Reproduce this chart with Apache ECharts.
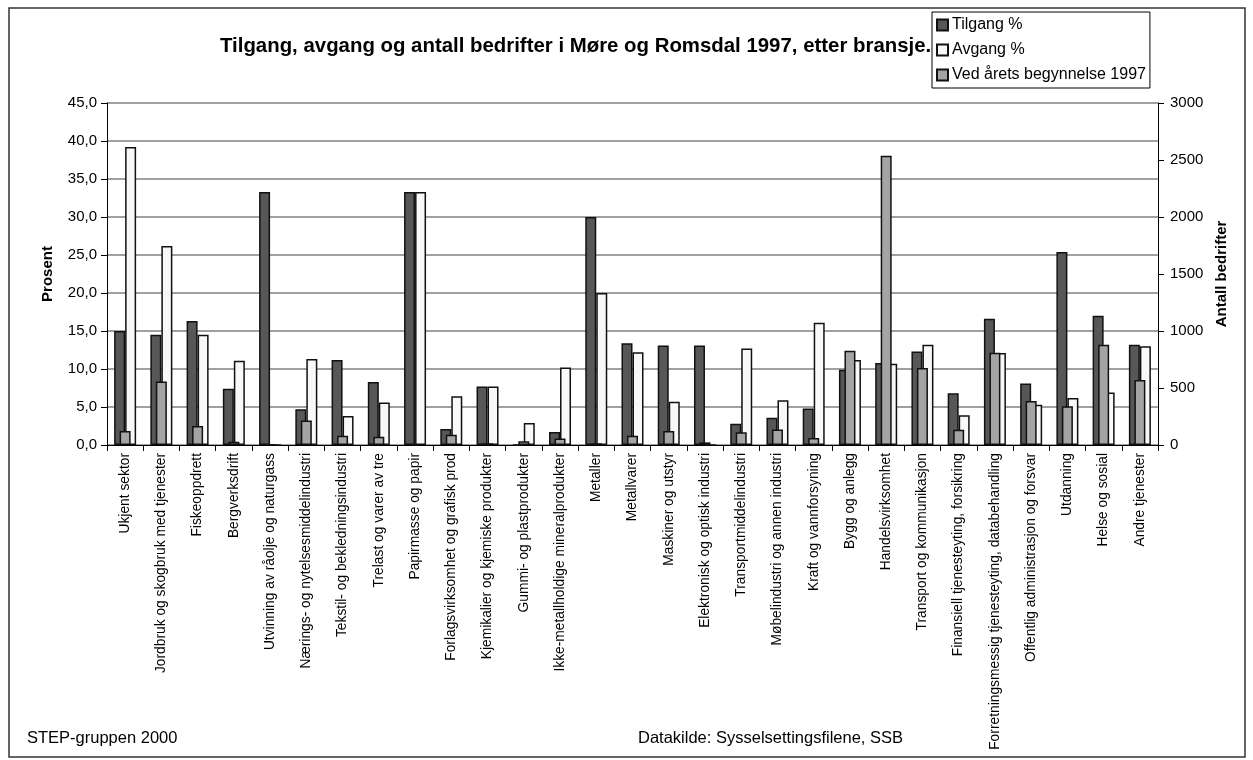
<!DOCTYPE html>
<html>
<head>
<meta charset="utf-8">
<script src="https://cdn.jsdelivr.net/npm/echarts@6/dist/echarts.min.js"></script>
<style>
  html, body { margin: 0; padding: 0; background: #ffffff; }
  #chart { width: 1253px; height: 760px; }
</style>
</head>
<body>
<div id="chart"></div>
<script>
// Næringsgrupper (bransjer)
const categories = [
  'Ukjent sektor',
  'Jordbruk og skogbruk med tjenester',
  'Fiskeoppdrett',
  'Bergverksdrift',
  'Utvinning av råolje og naturgass',
  'Nærings- og nytelsesmiddelindustri',
  'Tekstil- og bekledningsindustri',
  'Trelast og varer av tre',
  'Papirmasse og papir',
  'Forlagsvirksomhet og grafisk prod',
  'Kjemikalier og kjemiske produkter',
  'Gummi- og plastprodukter',
  'Ikke-metallholdige mineralprodukter',
  'Metaller',
  'Metallvarer',
  'Maskiner og utstyr',
  'Elektronisk og optisk industri',
  'Transportmiddelindustri',
  'Møbelindustri og annen industri',
  'Kraft og vannforsyning',
  'Bygg og anlegg',
  'Handelsvirksomhet',
  'Transport og kommunikasjon',
  'Finansiell tjenesteyting, forsikring',
  'Forretningsmessig tjenesteyting, databehandling',
  'Offentlig administrasjon og forsvar',
  'Utdanning',
  'Helse og sosial',
  'Andre tjenester'
];

// Tilgang i prosent
const tilgang = [15.0, 14.5, 16.3, 7.4, 33.3, 4.7, 11.2, 8.3, 33.3, 2.1, 7.7, 0, 1.7, 30.0, 13.4,
  13.1, 13.1, 2.8, 3.6, 4.8, 9.9, 10.8, 12.3, 6.8, 16.6, 8.1, 25.4, 17.0, 13.2];

// Avgang i prosent
const avgang = [39.2, 26.2, 14.5, 11.1, 0, 11.3, 3.8, 5.6, 33.3, 6.4, 7.7, 2.9, 10.2, 20.0, 12.2,
  5.7, 0, 12.7, 5.9, 16.1, 11.2, 10.7, 13.2, 3.9, 12.1, 5.3, 6.2, 6.9, 13.0];

// Antall bedrifter ved årets begynnelse 1997
const bedrifter = [123, 558, 166, 29, 5, 216, 82, 73, 5, 91, 15, 32, 58, 15, 82,
  123, 23, 111, 137, 61, 827, 2538, 675, 134, 809, 386, 339, 879, 570];

const seriesNames = ['Tilgang %', 'Avgang %', 'Ved årets begynnelse 1997'];

const FONT = 'Liberation Sans, Arial, sans-serif';
const BORDER = { borderColor: '#111111', borderWidth: 1.5 };

const chart = echarts.init(document.getElementById('chart'), null, { renderer: 'canvas' });

chart.setOption({
  backgroundColor: '#ffffff',
  animation: false,
  textStyle: { fontFamily: FONT, color: '#000000' },
  title: {
    text: 'Tilgang, avgang og antall bedrifter i Møre og Romsdal 1997, etter bransje.',
    left: 215,
    top: 31,
    textStyle: { fontFamily: FONT, fontSize: 20.4, fontWeight: 'bold', color: '#000000' }
  },
  legend: {
    orient: 'vertical',
    left: 932,
    top: 12,
    data: seriesNames,
    icon: 'rect',
    itemWidth: 11,
    itemHeight: 11,
    itemGap: 9,
    padding: [5, 4, 5, 4],
    backgroundColor: '#ffffff',
    borderColor: '#000000',
    borderWidth: 1,
    textStyle: { fontFamily: FONT, fontSize: 16, color: '#000000', padding: [0, 0, 0, -1] }
  },
  grid: { left: 107, right: 95, top: 103, bottom: 315, containLabel: false },
  xAxis: [
    {
      type: 'category',
      data: categories,
      axisLine: { show: true, lineStyle: { color: '#000000', width: 1 } },
      axisTick: { show: true, length: 6, lineStyle: { color: '#000000' } },
      axisLabel: {
        interval: 0, rotate: 90, margin: 8,
        fontFamily: FONT, fontSize: 13.8, color: '#000000'
      },
      splitLine: { show: false }
    },
    {
      type: 'category',
      data: categories,
      show: false
    }
  ],
  yAxis: [
    {
      type: 'value',
      min: 0, max: 45, interval: 5,
      name: 'Prosent',
      nameLocation: 'middle',
      nameRotate: 90,
      nameGap: 52,
      nameTextStyle: { fontFamily: FONT, fontSize: 15, fontWeight: 'bold', color: '#000000' },
      axisLine: { show: true, lineStyle: { color: '#000000', width: 1 } },
      axisTick: { show: true, length: 6, lineStyle: { color: '#000000' } },
      axisLabel: {
        margin: 10, fontFamily: FONT, fontSize: 15, color: '#000000',
        formatter: v => v.toFixed(1).replace('.', ',')
      },
      splitLine: { show: true, lineStyle: { color: '#808080', width: 1.5 } }
    },
    {
      type: 'value',
      min: 0, max: 3000, interval: 500,
      position: 'right',
      name: 'Antall bedrifter',
      nameLocation: 'middle',
      nameRotate: 90,
      nameGap: 55,
      nameTextStyle: { fontFamily: FONT, fontSize: 15, fontWeight: 'bold', color: '#000000' },
      axisLine: { show: true, lineStyle: { color: '#000000', width: 1 } },
      axisTick: { show: true, length: 6, lineStyle: { color: '#000000' } },
      axisLabel: {
        margin: 12, fontFamily: FONT, fontSize: 15, color: '#000000',
        formatter: v => String(v)
      },
      splitLine: { show: false }
    }
  ],
  series: [
    {
      name: seriesNames[0], type: 'bar', xAxisIndex: 0, yAxisIndex: 0,
      data: tilgang, barWidth: 11, barGap: '0%', z: 2,
      itemStyle: Object.assign({ color: '#575757' }, BORDER)
    },
    {
      name: seriesNames[1], type: 'bar', xAxisIndex: 0, yAxisIndex: 0,
      data: avgang, barWidth: 11, barGap: '0%', z: 2,
      itemStyle: Object.assign({ color: '#f8f8f8' }, BORDER)
    },
    {
      name: seriesNames[2], type: 'bar', xAxisIndex: 1, yAxisIndex: 1,
      data: bedrifter, barWidth: 11, z: 3,
      itemStyle: Object.assign({ color: '#a4a4a4' }, BORDER)
    }
  ],
  graphic: [
    {
      type: 'rect', silent: true, z: -1,
      shape: { x: 9, y: 8, width: 1236, height: 749 },
      style: { fill: 'none', stroke: '#333333', lineWidth: 1.5 }
    },
    {
      type: 'text', left: 27, top: 730, silent: true,
      style: { text: 'STEP-gruppen 2000', fontFamily: FONT, fontSize: 16.5, fill: '#000000' }
    },
    {
      type: 'text', left: 638, top: 730, silent: true,
      style: { text: 'Datakilde: Sysselsettingsfilene, SSB', fontFamily: FONT, fontSize: 16.5, fill: '#000000' }
    }
  ]
});
</script>
</body>
</html>
